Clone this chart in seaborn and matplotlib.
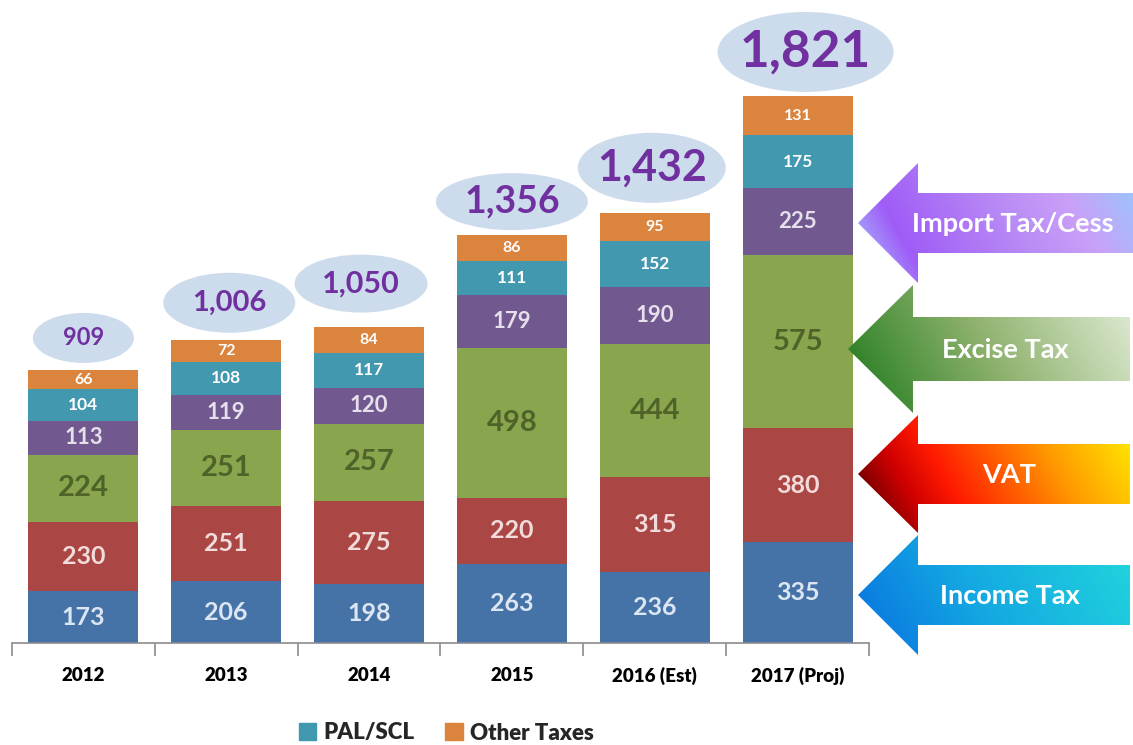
import numpy as np
import pandas as pd
import matplotlib.pyplot as plt
import seaborn as sns
from matplotlib.patches import Ellipse, Polygon, Patch
from matplotlib.colors import LinearSegmentedColormap
from matplotlib.font_manager import FontProperties

# Tax revenue by type (values as printed on the chart)
years = ['2012', '2013', '2014', '2015', '2016 (Est)', '2017 (Proj)']
income_tax = [173, 206, 198, 263, 236, 335]
vat = [230, 251, 275, 220, 315, 380]
excise_tax = [224, 251, 257, 498, 444, 575]
import_tax = [113, 119, 120, 179, 190, 225]
pal_scl = [104, 108, 117, 111, 152, 175]
other_taxes = [66, 72, 84, 86, 95, 131]
totals = [909, 1006, 1050, 1356, 1432, 1821]
total_labels = ['909', '1,006', '1,050', '1,356', '1,432', '1,821']

layer_names = ['Income Tax', 'VAT', 'Excise Tax', 'Import Tax/Cess', 'PAL/SCL', 'Other Taxes']
layer_values = [income_tax, vat, excise_tax, import_tax, pal_scl, other_taxes]
layer_colors = ['#4572A7', '#AA4643', '#89A54E', '#71588F', '#4198AF', '#DB843D']
label_colors = ['#DCE6F2', '#F2DCDB', '#4F6228', '#E6E0EC', 'white', 'white']
label_sizes = [18, 18, 21, 16, 12.5, 11.5]

# ellipse styling around the totals (pixels / points)
ell_w = [101, 132, 133, 152, 148, 176]
ell_h = [50, 60, 58, 57, 70, 80]
ell_lift = [32, 38, 44, 34, 45, 44]
ell_dx = [0, 3, -8, 0, -3, 8]
total_sizes = [17, 21, 22, 27, 31, 37]

sns.set_theme(style='white')
plt.rcParams['font.family'] = ['Lato', 'DejaVu Sans']
plt.rcParams['font.weight'] = 'bold'

W, H = 1133, 745
fig = plt.figure(figsize=(W / 100, H / 100), dpi=100)
base_px = 643
ax = fig.add_axes([12 / W, (H - base_px) / H, (869 - 12) / W, base_px / H])
ax.patch.set_alpha(0)

df = pd.DataFrame({'year': years})
cum = np.zeros(len(years))
cums = []
for vals in layer_values:
    cum = cum + np.array(vals)
    cums.append(cum.copy())
for i, name in enumerate(layer_names):
    df[name] = cums[i]

# stacked bars: draw cumulative totals from top layer down
for i in reversed(range(len(layer_names))):
    sns.barplot(data=df, x='year', y=layer_names[i], color=layer_colors[i],
                saturation=1, width=0.77, errorbar=None, ax=ax, edgecolor='none')

ymax = base_px / 0.3004
ax.set_xlim(-0.5, len(years) - 0.5)
ax.set_ylim(0, ymax)
px_x = (869 - 12) / len(years)
px_y = base_px / ymax

for i, vals in enumerate(layer_values):
    for j, v in enumerate(vals):
        ax.text(j, cums[i][j] - v / 2, str(v), ha='center', va='center',
                color=label_colors[i], fontsize=label_sizes[i], fontweight='bold')

for j, t in enumerate(totals):
    cx = j + ell_dx[j] / px_x
    cy = t + ell_lift[j] / px_y
    ax.add_patch(Ellipse((cx, cy), ell_w[j] / px_x, ell_h[j] / px_y,
                         facecolor='#CDDCEC', edgecolor='none', clip_on=False))
    ax.text(cx, cy, total_labels[j], ha='center', va='center', color='#7030A0',
            fontsize=total_sizes[j], fontweight='bold', clip_on=False)

# axis styling
for s in ['left', 'right', 'top']:
    ax.spines[s].set_visible(False)
ax.spines['bottom'].set_color('#8C8C8C')
ax.spines['bottom'].set_linewidth(1.2)
ax.set_yticks([])
ax.set_xlabel('')
ax.set_ylabel('')
ax.set_xticks(np.arange(-0.5, len(years), 1.0), minor=True)
ax.tick_params(axis='x', which='minor', length=9, color='#8C8C8C', width=1.2, bottom=True)
ax.tick_params(axis='x', which='major', length=0, pad=17)
for lab in ax.get_xticklabels():
    lab.set_fontsize(13.5)
    lab.set_fontweight('heavy')
    lab.set_color('#000000')

# gradient arrows on the right, in pixel coordinates
ov = fig.add_axes([0, 0, 1, 1], zorder=5)
ov.set_xlim(0, W)
ov.set_ylim(H, 0)
ov.axis('off')
ov.patch.set_visible(False)

arrows = [
    ('Import Tax/Cess', (858, 223), 918, 60, 30, 1133, 1013,
     ['#A8CFFF', '#9F5CF7', '#B98BF5', '#C9A0F8', '#96CAFF'], [0, 0.2, 0.55, 0.75, 1]),
    ('Excise Tax', (848, 349), 913, 64, 32, 1130, 1005,
     ['#137013', '#3E8A33', '#8FB26E', '#E2EDD8'], [0, 0.15, 0.5, 1]),
    ('VAT', (858, 474), 918, 59, 30, 1130, 1009,
     ['#3D0000', '#D00000', '#FF1A00', '#FF9A00', '#FFF000'], [0, 0.22, 0.35, 0.7, 1]),
    ('Income Tax', (858, 595), 918, 60, 30, 1130, 1010,
     ['#0870E0', '#14A9E2', '#22D6DC'], [0, 0.45, 1]),
]
for name, (tx, ty), hx, hh, sh, rx, lx, cols, stops in arrows:
    pts = [(tx, ty), (hx, ty - hh), (hx, ty - sh), (rx, ty - sh),
           (rx, ty + sh), (hx, ty + sh), (hx, ty + hh)]
    poly = Polygon(pts, closed=True, facecolor='none', edgecolor='none')
    ov.add_patch(poly)
    cmap = LinearSegmentedColormap.from_list(name, list(zip(stops, cols)))
    gx = np.linspace(0, 1, 300)
    gy = np.linspace(0, 1, 60)
    grad = 0.8 * gx[None, :] + 0.2 * (1 - gy[:, None])
    im = ov.imshow(grad, cmap=cmap, extent=(tx, rx, ty + hh, ty - hh),
                   aspect='auto', vmin=0, vmax=1, interpolation='bilinear')
    im.set_clip_path(poly)
    ov.text(lx, ty + 1, name, ha='center', va='center', color='white',
            fontsize=19.5, fontweight='bold')
ov.set_xlim(0, W)
ov.set_ylim(H, 0)

handles = [Patch(color='#4198AF', label='PAL/SCL'), Patch(color='#DB843D', label='Other Taxes')]
leg_font = FontProperties(family='Lato', weight='heavy', size=16)
fig.legend(handles=handles, loc='center', bbox_to_anchor=(446 / W, 1 - 733 / H), ncol=2,
           frameon=False, prop=leg_font, handlelength=0.8,
           handleheight=0.8, handletextpad=0.3, columnspacing=1.4)

plt.savefig('out.png', dpi=100)
